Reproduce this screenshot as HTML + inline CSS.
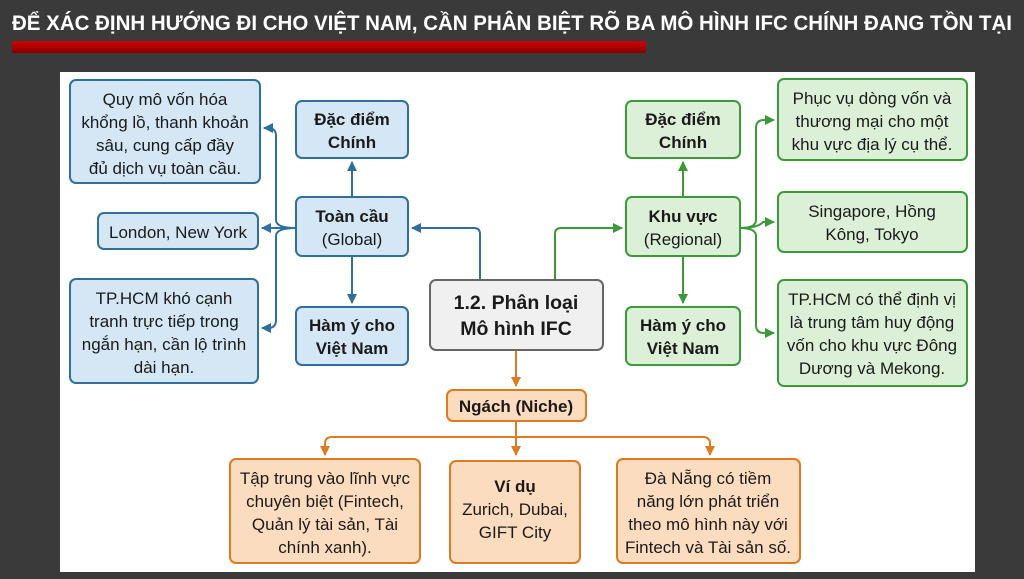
<!DOCTYPE html>
<html><head><meta charset="utf-8"><style>
html,body{margin:0;padding:0;background:#3a3a3a;width:1024px;height:579px;overflow:hidden}
svg text{font-family:"Liberation Sans",sans-serif;font-size:17px;fill:#1a1a1a}
.b{font-weight:bold}
</style></head><body>
<svg width="1024" height="579" viewBox="0 0 1024 579" xmlns="http://www.w3.org/2000/svg">
<defs>
<linearGradient id="rb" x1="0" y1="0" x2="0" y2="1"><stop offset="0" stop-color="#d00000"/><stop offset="1" stop-color="#8a0000"/></linearGradient>
<marker id="ab" markerWidth="10" markerHeight="10" refX="9" refY="5" orient="auto" markerUnits="userSpaceOnUse"><path d="M0,0 L10,5 L0,10 z" fill="#2e6fa0"/></marker>
<marker id="ag" markerWidth="10" markerHeight="10" refX="9" refY="5" orient="auto" markerUnits="userSpaceOnUse"><path d="M0,0 L10,5 L0,10 z" fill="#3a9a3a"/></marker>
<marker id="ao" markerWidth="10" markerHeight="10" refX="9" refY="5" orient="auto" markerUnits="userSpaceOnUse"><path d="M0,0 L10,5 L0,10 z" fill="#e07a20"/></marker>
</defs>
<text x="512" y="30" text-anchor="middle" style="font-size:21px;font-weight:bold;fill:#fff" textLength="1000" lengthAdjust="spacingAndGlyphs">ĐỂ XÁC ĐỊNH HƯỚNG ĐI CHO VIỆT NAM, CẦN PHÂN BIỆT RÕ BA MÔ HÌNH IFC CHÍNH ĐANG TỒN TẠI</text>
<rect x="12" y="41" width="634" height="12" rx="2" fill="url(#rb)"/>
<rect x="60" y="72" width="915" height="500" fill="#fff"/>

<g fill="none" stroke="#2e6fa0" stroke-width="2">
<path d="M480,280 V234 Q480,228 474,228 H412" marker-end="url(#ab)"/>
<path d="M352,197 V162" marker-end="url(#ab)"/>
<path d="M352,256 V303" marker-end="url(#ab)"/>
<path d="M296,228 H262" marker-end="url(#ab)"/>
<path d="M296,228 Q276,228 276,220 V136 Q276,128 268,128 H264" marker-end="url(#ab)"/>
<path d="M296,228 Q276,228 276,236 V320 Q276,328 268,328 H262" marker-end="url(#ab)"/>
</g>
<g fill="none" stroke="#3a9a3a" stroke-width="2">
<path d="M555,280 V234 Q555,228 561,228 H622" marker-end="url(#ag)"/>
<path d="M683,197 V162" marker-end="url(#ag)"/>
<path d="M683,256 V303" marker-end="url(#ag)"/>
<path d="M740,228 Q758,228 763,222 Q768,222 774,222" marker-end="url(#ag)"/>
<path d="M740,228 Q756,228 756,220 V128 Q756,120 764,120 H774" marker-end="url(#ag)"/>
<path d="M740,228 Q756,228 756,236 V325 Q756,333 764,333 H774" marker-end="url(#ag)"/>
</g>
<g fill="none" stroke="#e07a20" stroke-width="2">
<path d="M516,350 V386" marker-end="url(#ao)"/>
<path d="M516,421 V455" marker-end="url(#ao)"/>
<path d="M516,437 H332 Q325,437 325,444 V455" marker-end="url(#ao)"/>
<path d="M516,437 H703 Q710,437 710,444 V455" marker-end="url(#ao)"/>
</g>

<g fill="#d5e7f4" stroke="#2e6fa0" stroke-width="2">
<rect x="70" y="80" width="190" height="103" rx="6"/>
<rect x="296" y="101" width="112" height="57" rx="6"/>
<rect x="296" y="197" width="112" height="59" rx="6"/>
<rect x="98" y="213" width="160" height="36" rx="6"/>
<rect x="70" y="279" width="188" height="104" rx="6"/>
<rect x="296" y="307" width="112" height="58" rx="6"/>
</g>
<g fill="#dcf0d8" stroke="#3a9a3a" stroke-width="2">
<rect x="626" y="101" width="114" height="57" rx="6"/>
<rect x="626" y="197" width="114" height="59" rx="6"/>
<rect x="626" y="307" width="114" height="58" rx="6"/>
<rect x="778" y="79" width="189" height="81" rx="6"/>
<rect x="778" y="192" width="189" height="60" rx="6"/>
<rect x="778" y="280" width="189" height="106" rx="6"/>
</g>
<rect x="430" y="280" width="173" height="70" rx="6" fill="#f0f0f0" stroke="#666" stroke-width="2"/>
<g fill="#fcdcbf" stroke="#e07a20" stroke-width="2">
<rect x="447" y="390" width="139" height="31" rx="6"/>
<rect x="230" y="459" width="190" height="104" rx="6"/>
<rect x="450" y="461" width="130" height="102" rx="6"/>
<rect x="617" y="459" width="183" height="104" rx="6"/>
</g>

<g text-anchor="middle">
<text x="165" y="105">Quy mô vốn hóa</text>
<text x="165" y="128">khổng lồ, thanh khoản</text>
<text x="165" y="151">sâu, cung cấp đầy</text>
<text x="165" y="174">đủ dịch vụ toàn cầu.</text>
<text class="b" x="352" y="125">Đặc điểm</text>
<text class="b" x="352" y="148">Chính</text>
<text class="b" x="352" y="222">Toàn cầu</text>
<text x="352" y="245">(Global)</text>
<text x="178" y="238">London, New York</text>
<text x="164" y="304">TP.HCM khó cạnh</text>
<text x="164" y="327">tranh trực tiếp trong</text>
<text x="164" y="350">ngắn hạn, cần lộ trình</text>
<text x="164" y="373">dài hạn.</text>
<text class="b" x="352" y="331">Hàm ý cho</text>
<text class="b" x="352" y="354">Việt Nam</text>

<text class="b" x="516" y="309" style="font-size:19.5px">1.2. Phân loại</text>
<text class="b" x="516" y="335" style="font-size:19.5px">Mô hình IFC</text>

<text class="b" x="683" y="125">Đặc điểm</text>
<text class="b" x="683" y="148">Chính</text>
<text class="b" x="683" y="222">Khu vực</text>
<text x="683" y="245">(Regional)</text>
<text class="b" x="683" y="331">Hàm ý cho</text>
<text class="b" x="683" y="354">Việt Nam</text>
<text x="872" y="104">Phục vụ dòng vốn và</text>
<text x="872" y="127">thương mại cho một</text>
<text x="872" y="150">khu vực địa lý cụ thể.</text>
<text x="872" y="217">Singapore, Hồng</text>
<text x="872" y="240">Kông, Tokyo</text>
<text x="872" y="305">TP.HCM có thể định vị</text>
<text x="872" y="328">là trung tâm huy động</text>
<text x="872" y="351">vốn cho khu vực Đông</text>
<text x="872" y="374">Dương và Mekong.</text>

<text class="b" x="516" y="412">Ngách (Niche)</text>
<text x="325" y="484">Tập trung vào lĩnh vực</text>
<text x="325" y="507">chuyên biệt (Fintech,</text>
<text x="325" y="530">Quản lý tài sản, Tài</text>
<text x="325" y="553">chính xanh).</text>
<text class="b" x="515" y="492">Ví dụ</text>
<text x="515" y="515">Zurich, Dubai,</text>
<text x="515" y="538">GIFT City</text>
<text x="708" y="484">Đà Nẵng có tiềm</text>
<text x="708" y="507">năng lớn phát triển</text>
<text x="708" y="530">theo mô hình này với</text>
<text x="708" y="553">Fintech và Tài sản số.</text>
</g>
</svg>
</body></html>
